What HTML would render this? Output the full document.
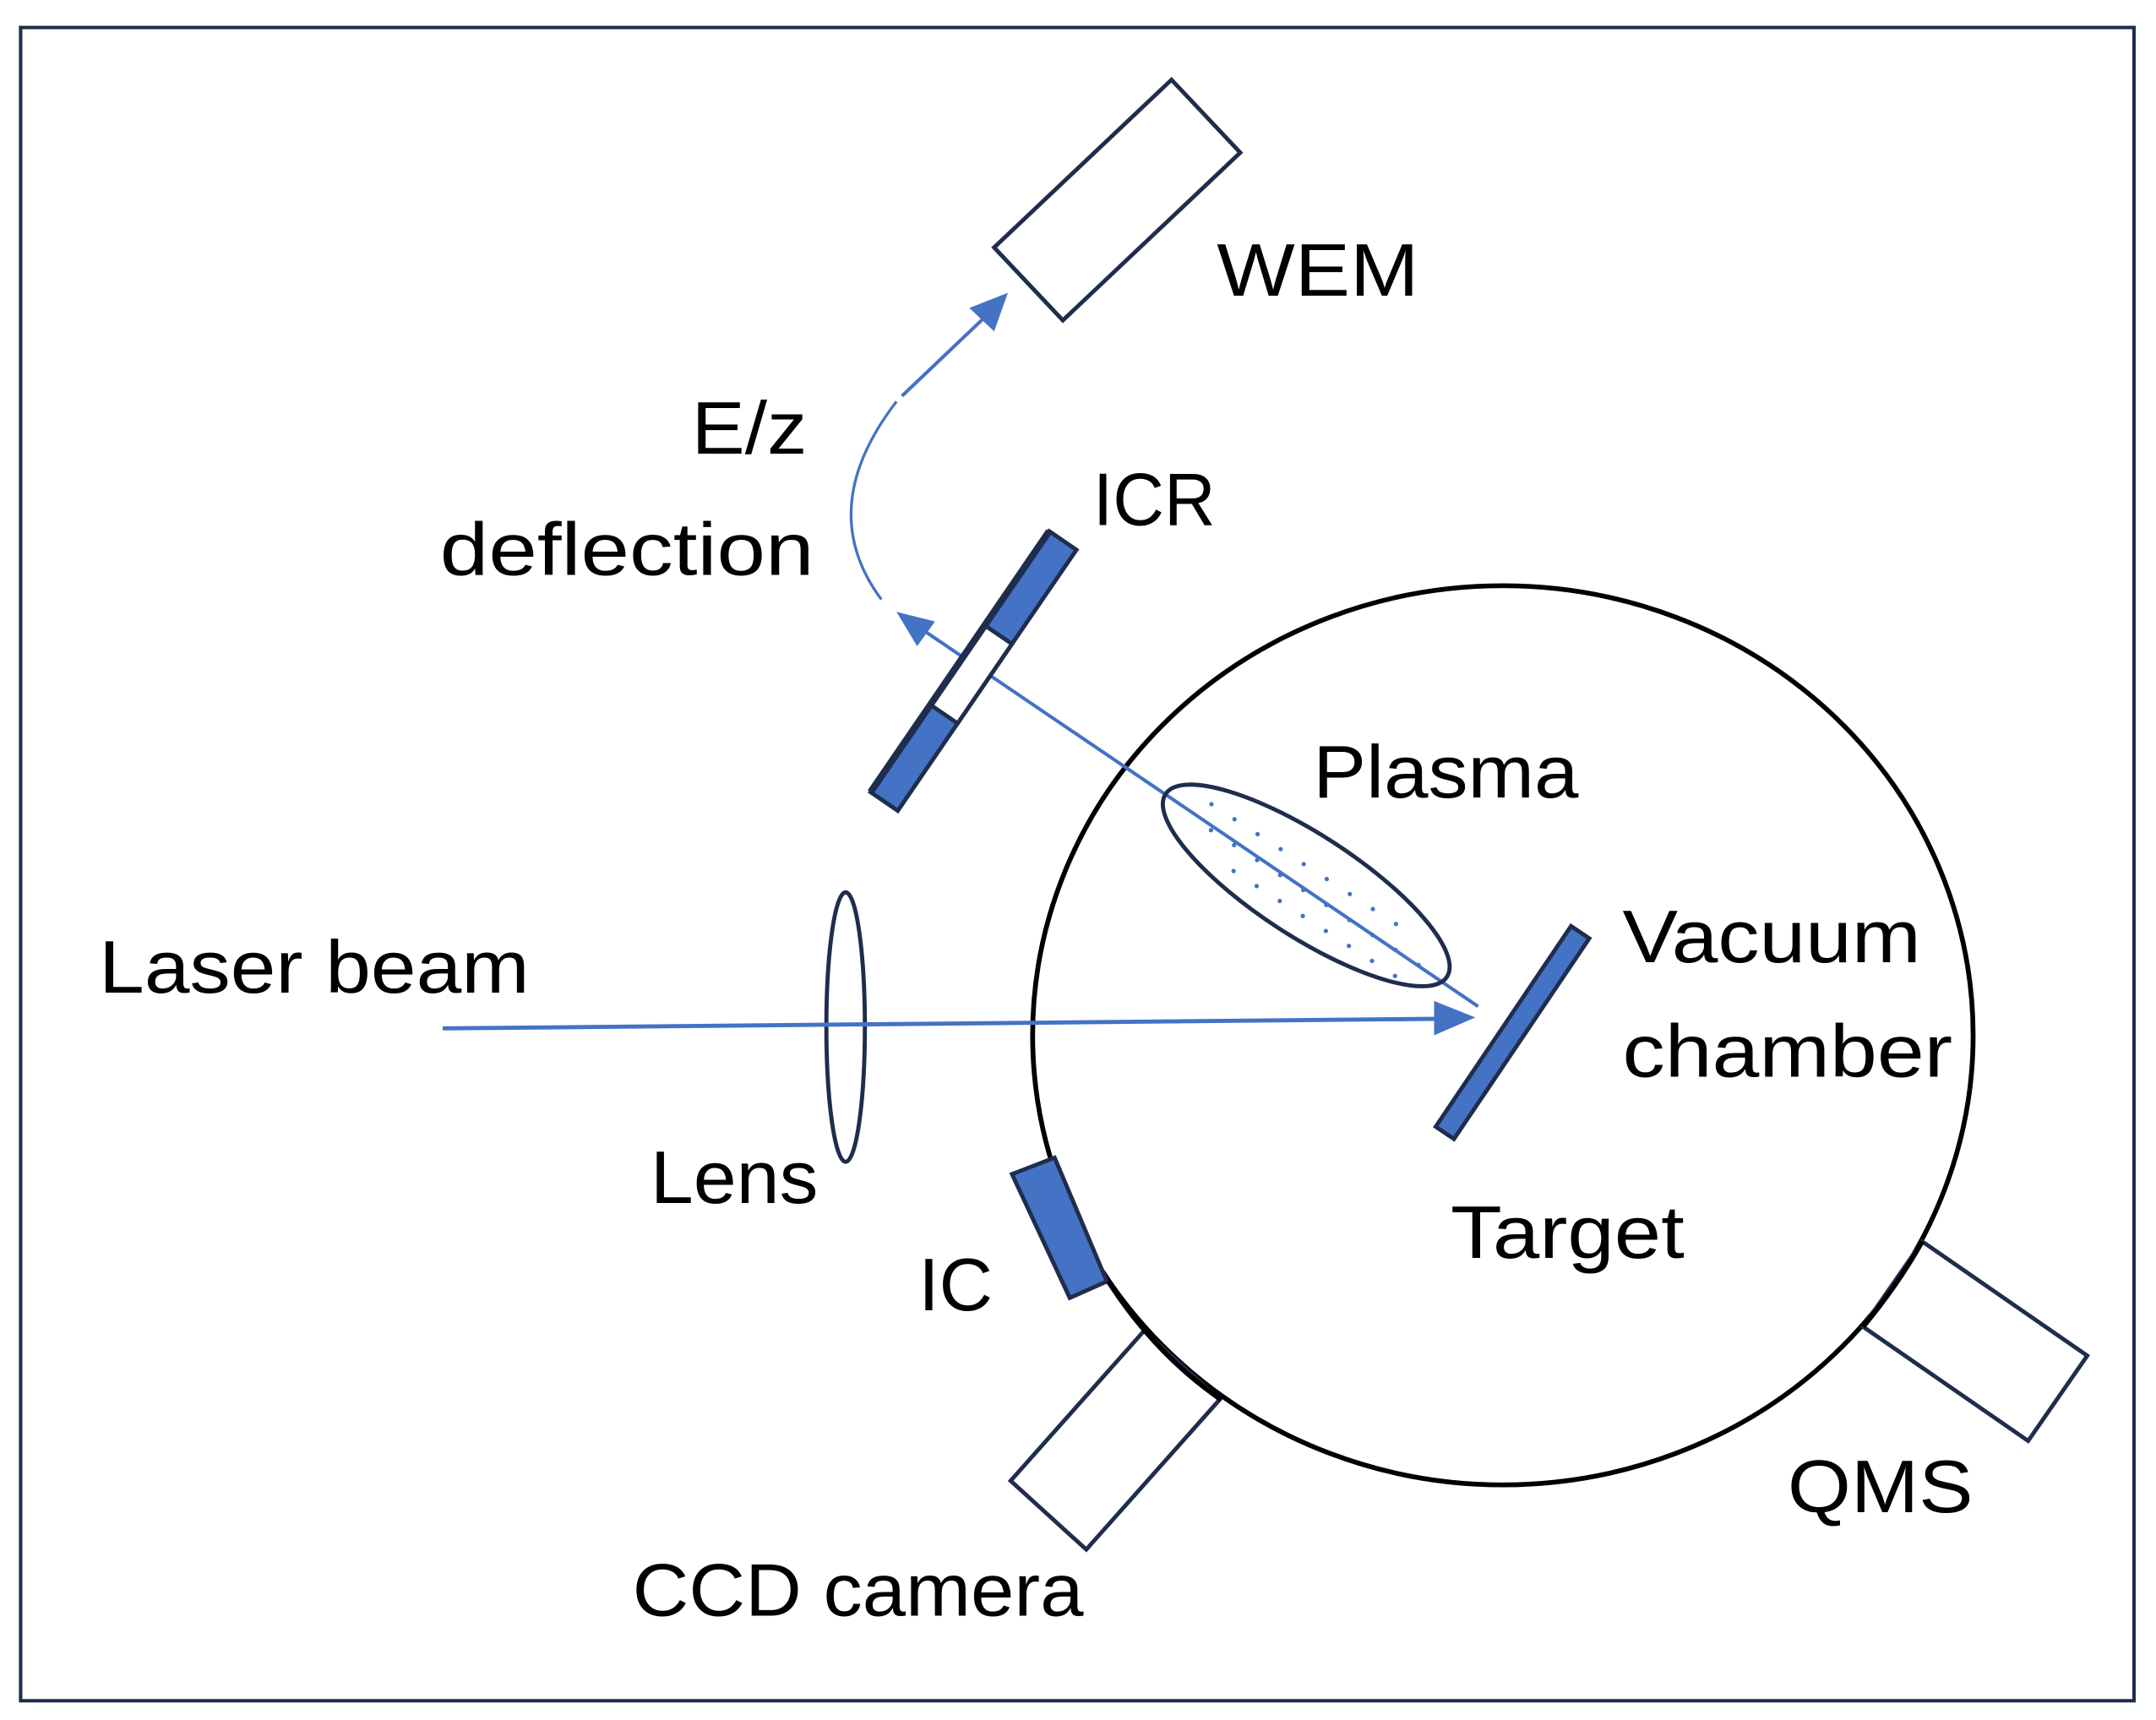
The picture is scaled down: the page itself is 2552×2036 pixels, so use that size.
<!DOCTYPE html>
<html><head><meta charset="utf-8"><style>
html,body{margin:0;padding:0;background:#fff;}
svg{display:block;}
text{font-family:"Liberation Sans",sans-serif;font-size:54px;fill:#000;}
</style></head><body>
<svg width="2552" height="2036" viewBox="0 0 1568 1251" preserveAspectRatio="none" xmlns="http://www.w3.org/2000/svg">
<rect x="15" y="20" width="1537" height="1217" fill="#fff" stroke="#1f2d4d" stroke-width="2.5"/>
<ellipse cx="1093" cy="753" rx="342" ry="327" fill="none" stroke="#000" stroke-width="3.5"/>
<polygon points="723,180 852,58 902,111 773,233" fill="#fff" stroke="#1f2d4d" stroke-width="3"/>
<path d="M641 436 Q592 370 652 292" fill="none" stroke="#4472c4" stroke-width="2"/>
<line x1="656" y1="288" x2="718" y2="229" stroke="#4472c4" stroke-width="2.5"/>
<polygon points="733,213 723,241 705,224" fill="#4472c4"/>
<line x1="1075" y1="732" x2="668" y2="456" stroke="#4472c4" stroke-width="2.5"/>
<polygon points="652,445 680,452 667,470" fill="#4472c4"/>
<g transform="translate(708,488) rotate(-55.6)">
<rect x="-115" y="-12" width="230" height="24" fill="#4472c4" stroke="#1f2d4d" stroke-width="3"/>
<rect x="-38" y="-12" width="70" height="24" fill="#fff" stroke="#1f2d4d" stroke-width="3"/>
<line x1="-115" y1="-12" x2="115" y2="-12" stroke="#1f2d4d" stroke-width="5"/>
</g>
<g transform="translate(950,644) rotate(33)">
<ellipse cx="0" cy="0" rx="122" ry="37" fill="none" stroke="#1f2d4d" stroke-width="3"/>
<g fill="#4472c4">
<circle cx="-90" cy="-12" r="1.6"/><circle cx="-70" cy="-12" r="1.6"/><circle cx="-50" cy="-12" r="1.6"/><circle cx="-30" cy="-12" r="1.6"/><circle cx="-10" cy="-12" r="1.6"/><circle cx="10" cy="-12" r="1.6"/><circle cx="30" cy="-12" r="1.6"/><circle cx="50" cy="-12" r="1.6"/><circle cx="70" cy="-12" r="1.6"/>
<circle cx="-80" cy="4" r="1.6"/><circle cx="-60" cy="4" r="1.6"/><circle cx="-40" cy="4" r="1.6"/><circle cx="-20" cy="4" r="1.6"/><circle cx="0" cy="4" r="1.6"/><circle cx="20" cy="4" r="1.6"/><circle cx="40" cy="4" r="1.6"/><circle cx="60" cy="4" r="1.6"/><circle cx="80" cy="4" r="1.6"/><circle cx="100" cy="4" r="1.6"/>
<circle cx="-50" cy="20" r="1.6"/><circle cx="-30" cy="20" r="1.6"/><circle cx="-10" cy="20" r="1.6"/><circle cx="10" cy="20" r="1.6"/><circle cx="30" cy="20" r="1.6"/><circle cx="50" cy="20" r="1.6"/><circle cx="70" cy="20" r="1.6"/><circle cx="90" cy="20" r="1.6"/>
</g>
</g>
<ellipse cx="615" cy="747" rx="14" ry="98" fill="none" stroke="#1f2d4d" stroke-width="3"/>
<line x1="322" y1="748" x2="1048" y2="741" stroke="#4472c4" stroke-width="3"/>
<polygon points="1073,740 1043,728 1043,753" fill="#4472c4"/>
<g transform="translate(1100,751) rotate(-56)">
<rect x="-88" y="-8" width="176" height="16" fill="#4472c4" stroke="#1f2d4d" stroke-width="3"/>
</g>
<polygon points="736,854 767,842 805,932 778,944" fill="#4472c4" stroke="#1f2d4d" stroke-width="3"/>
<polygon points="735,1077 832,968 887,1018 790,1127" fill="#fff" stroke="#1f2d4d" stroke-width="3"/>
<path d="M806 932 Q840 985 888 1018" fill="none" stroke="#000" stroke-width="3.5"/>
<polygon points="1355,965 1398,903 1518,986 1475,1048" fill="#fff" stroke="#1f2d4d" stroke-width="3"/>
<path d="M1355 965 Q1380 935 1398 903" fill="none" stroke="#000" stroke-width="3.5"/>
<g lengthAdjust="spacingAndGlyphs">
<text x="885" y="215" textLength="147" lengthAdjust="spacingAndGlyphs">WEM</text>
<text x="503" y="330" textLength="84" lengthAdjust="spacingAndGlyphs">E/z</text>
<text x="320" y="418" textLength="272" lengthAdjust="spacingAndGlyphs">deflection</text>
<text x="795" y="382" textLength="89" lengthAdjust="spacingAndGlyphs">ICR</text>
<text x="955" y="580" textLength="193" lengthAdjust="spacingAndGlyphs">Plasma</text>
<text x="1180" y="700" textLength="217" lengthAdjust="spacingAndGlyphs">Vacuum</text>
<text x="1180" y="783" textLength="240" lengthAdjust="spacingAndGlyphs">chamber</text>
<text x="72" y="722" textLength="313" lengthAdjust="spacingAndGlyphs">Laser beam</text>
<text x="473" y="875" textLength="122" lengthAdjust="spacingAndGlyphs">Lens</text>
<text x="1055" y="915" textLength="170" lengthAdjust="spacingAndGlyphs">Target</text>
<text x="668" y="953" textLength="54" lengthAdjust="spacingAndGlyphs">IC</text>
<text x="460" y="1175" textLength="328" lengthAdjust="spacingAndGlyphs">CCD camera</text>
<text x="1300" y="1100" textLength="135" lengthAdjust="spacingAndGlyphs">QMS</text>
</g>
</svg>
</body></html>
